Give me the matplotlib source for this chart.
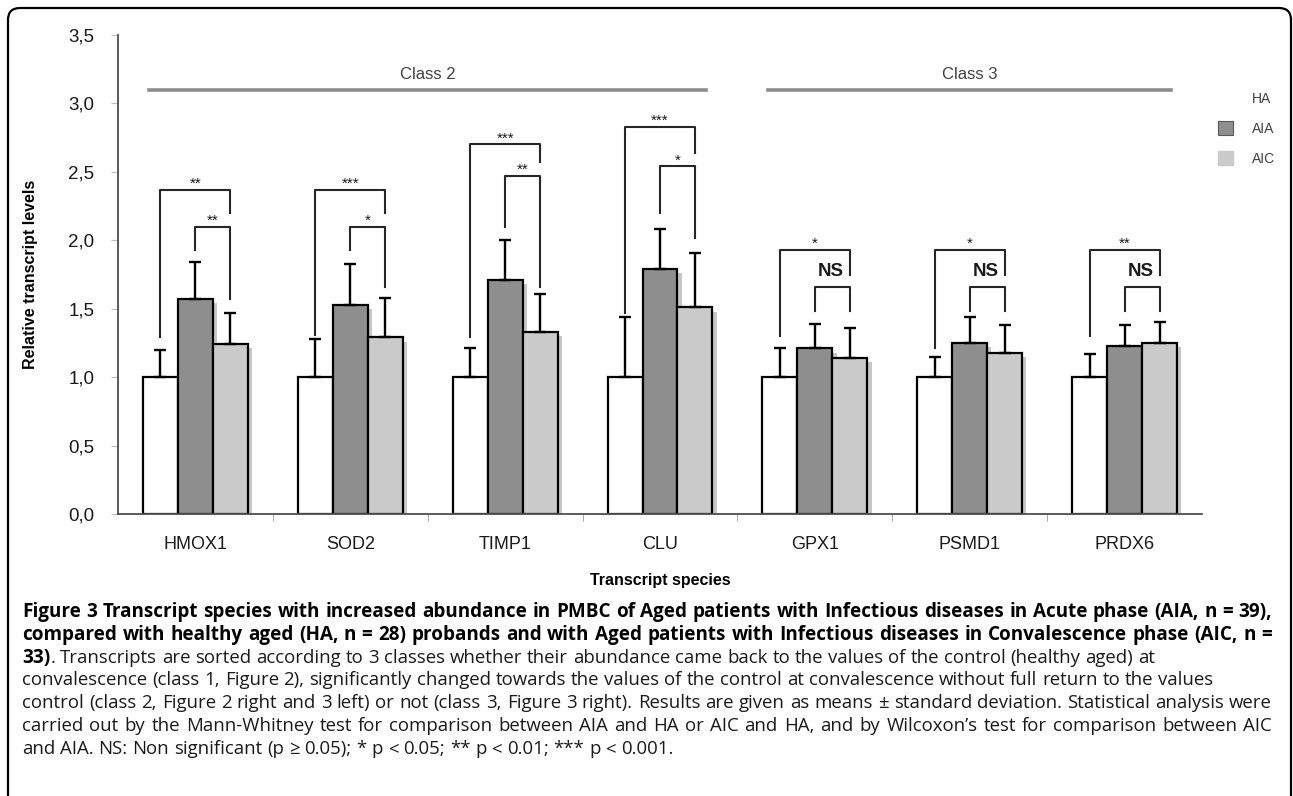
import numpy as np
import matplotlib
matplotlib.use("Agg")
import matplotlib.pyplot as plt
import matplotlib.patheffects as pe
from matplotlib.patches import FancyBboxPatch, Patch
from matplotlib.transforms import IdentityTransform
from matplotlib.ticker import FuncFormatter, FixedLocator

genes = ["HMOX1", "SOD2", "TIMP1", "CLU", "GPX1", "PSMD1", "PRDX6"]
groups = ["HA", "AIA", "AIC"]

ha_mean = [1.0, 1.0, 1.0, 1.0, 1.0, 1.0, 1.0]
ha_sd = [0.20, 0.28, 0.21, 0.44, 0.21, 0.15, 0.17]
aia_mean = [1.57, 1.53, 1.71, 1.79, 1.21, 1.25, 1.23]
aia_sd = [0.27, 0.30, 0.29, 0.29, 0.18, 0.19, 0.15]
aic_mean = [1.24, 1.29, 1.33, 1.51, 1.14, 1.18, 1.25]
aic_sd = [0.23, 0.29, 0.28, 0.40, 0.22, 0.20, 0.15]

# significance brackets (HA vs AIC, AIA vs AIC)
big_label = ["**", "***", "***", "***", "*", "*", "**"]
big_top = [2.37, 2.37, 2.70, 2.83, 1.93, 1.93, 1.93]
big_left_end = [1.29, 1.31, 1.29, 1.47, 1.30, 1.21, 1.30]
big_right_end = [2.20, 2.20, 2.57, 2.64, 1.75, 1.75, 1.75]
small_label = ["**", "*", "**", "*", "NS", "NS", "NS"]
small_top = [2.10, 2.10, 2.47, 2.54, 1.66, 1.66, 1.66]
small_left_end = [1.93, 1.93, 2.10, 2.20, 1.48, 1.48, 1.48]
small_right_end = [1.57, 1.66, 1.66, 2.02, 1.48, 1.48, 1.48]

classes = ["Class 2", "Class 3"]
class_span = [(-0.3, 3.3), (3.7, 6.3)]

caption_lines = [
    "Figure 3 Transcript species with increased abundance in PMBC of Aged patients with Infectious diseases in Acute phase (AIA, n = 39),",
    "compared with healthy aged (HA, n = 28) probands and with Aged patients with Infectious diseases in Convalescence phase (AIC, n =",
    "33). Transcripts are sorted according to 3 classes whether their abundance came back to the values of the control (healthy aged) at",
    "convalescence (class 1, Figure 2), significantly changed towards the values of the control at convalescence without full return to the values",
    "control (class 2, Figure 2 right and 3 left) or not (class 3, Figure 3 right). Results are given as means \u00b1 standard deviation. Statistical analysis were",
    "carried out by the Mann-Whitney test for comparison between AIA and HA or AIC and HA, and by Wilcoxon\u2019s test for comparison between AIC",
    "and AIA. NS: Non significant (p \u2265 0.05); * p < 0.05; ** p < 0.01; *** p < 0.001.",
]
caption_justify = [True, True, False, False, True, True, False]

plt.rcParams["font.family"] = ["Liberation Sans", "DejaVu Sans"]

W, H = 1293, 796
fig = plt.figure(figsize=(W / 100, H / 100), dpi=100)
ax = fig.add_axes([118 / W, (H - 514) / H, (1202 - 118) / W, (514 - 35) / H])

x = np.arange(len(genes))
w = 0.226
colors = ["white", "#8e8e8e", "#cacaca"]
means = [ha_mean, aia_mean, aic_mean]
sds = [ha_sd, aia_sd, aic_sd]
shadow = [pe.SimplePatchShadow(offset=(3, -3), shadow_rgbFace="0.78", alpha=1.0), pe.Normal()]

for k in range(3):
    pos = x + (k - 1) * w
    bars = ax.bar(pos, means[k], w, color=colors[k], edgecolor="black",
                  linewidth=1.6, zorder=2)
    for b in bars:
        b.set_path_effects(shadow)
    ax.errorbar(pos, means[k], yerr=[np.zeros(len(x)), sds[k]], fmt="none",
                ecolor="black", elinewidth=1.7, capsize=4.5, capthick=1.7, zorder=3)

br_col = "0.15"
for i in range(len(genes)):
    xl, xm, xr = x[i] - w, x[i], x[i] + w
    ax.plot([xl, xl, xr, xr], [big_left_end[i], big_top[i], big_top[i], big_right_end[i]],
            color=br_col, lw=1.5, zorder=4)
    ax.plot([xm, xm, xr, xr], [small_left_end[i], small_top[i], small_top[i], small_right_end[i]],
            color=br_col, lw=1.5, zorder=4)
    ax.text(x[i], big_top[i] + 0.015, big_label[i], ha="center", va="baseline",
            fontsize=11, color="0.1")
    if small_label[i] == "NS":
        ax.text(xr - 0.04, (big_top[i] + small_top[i]) / 2 - 0.02, "NS", ha="right",
                va="center", fontsize=13.5, fontweight="bold", color="0.1")
    else:
        ax.text((xm + xr) / 2, small_top[i] + 0.015, small_label[i], ha="center",
                va="baseline", fontsize=11, color="0.1")

for name, (a, b) in zip(classes, class_span):
    ax.plot([a, b], [3.1, 3.1], color="0.55", lw=2.6, clip_on=False, zorder=1)
    ax.text((a + b) / 2, 3.21, name, ha="center", va="center", fontsize=12, color="0.25")

ax.set_xlim(-0.5, 6.5)
ax.set_ylim(0, 3.5)
ax.set_yticks(np.arange(0, 3.51, 0.5))
ax.yaxis.set_major_formatter(FuncFormatter(lambda v, p: f"{v:.1f}".replace(".", ",")))
ax.set_xticks(x)
ax.set_xticklabels(genes)
ax.xaxis.set_minor_locator(FixedLocator(x[:-1] + 0.5))
ax.tick_params(axis="x", which="major", length=0, pad=16, labelsize=13, labelcolor="0.1")
ax.tick_params(axis="x", which="minor", length=5, color="0.6", direction="out")
ax.tick_params(axis="y", length=5, color="0.75", pad=12, labelsize=13.5, labelcolor="0.1")
for s in ["top", "right"]:
    ax.spines[s].set_visible(False)
for s in ["left", "bottom"]:
    ax.spines[s].set_color("0.3")
    ax.spines[s].set_linewidth(1.3)

ax.set_ylabel("Relative transcript levels", fontsize=11.5, fontweight="bold", labelpad=22)
ax.set_xlabel("Transcript species", fontsize=11.5, fontweight="bold", labelpad=14)

handles = [Patch(facecolor=c, edgecolor=c) for c in colors]
handles[1] = Patch(facecolor=colors[1], edgecolor="0.35", linewidth=0.8)
fig.legend(handles, groups, loc="upper left", bbox_to_anchor=(1205 / W, 1 - 79 / H),
           frameon=False, fontsize=10, labelcolor="0.25", handlelength=1.15,
           handleheight=1.15, handletextpad=1.3, labelspacing=1.1)

# caption, drawn word by word so that full lines can be justified
cap_font = ["Open Sans", "DejaVu Sans"]
bold_size, reg_size = 13.6, 13.4
left, right = 22, 1272
y0, dy = 612, 22.8
fig.canvas.draw()
renderer = fig.canvas.get_renderer()


def piece_width(s, weight):
    size = bold_size if weight == "bold" else reg_size
    t = fig.text(0, 0, s, fontsize=size, fontweight=weight, family=cap_font)
    wd = t.get_window_extent(renderer).width
    t.remove()
    return wd


space = piece_width("a a", "normal") - piece_width("aa", "normal")

for j, line in enumerate(caption_lines):
    words = []
    for word in line.split(" "):
        if j < 2:
            words.append([(word, "bold")])
        elif j == 2 and word == "33).":
            words.append([("33)", "bold"), (".", "normal")])
        else:
            words.append([(word, "normal")])
    widths = [[piece_width(s, wt) for s, wt in word] for word in words]
    total = sum(sum(ws) for ws in widths)
    gap = space
    if caption_justify[j]:
        gap = min((right - left - total) / (len(words) - 1), space * 1.8)
    xpos = left
    ypos = 1 - (y0 + j * dy) / H
    for word, ws in zip(words, widths):
        for (s, wt), wd in zip(word, ws):
            fig.text(xpos / W, ypos, s, fontsize=bold_size if wt == "bold" else reg_size,
                     fontweight=wt, family=cap_font, va="center", ha="left",
                     color="black" if wt == "bold" else "0.1")
            xpos += wd
        xpos += gap

border = FancyBboxPatch((8, -30), 1283, H - 8 + 30,
                        boxstyle="round,pad=0,rounding_size=12",
                        transform=IdentityTransform(), fill=False, lw=1.6, ec="black")
fig.patches.append(border)

fig.savefig("out.png", dpi=100)
